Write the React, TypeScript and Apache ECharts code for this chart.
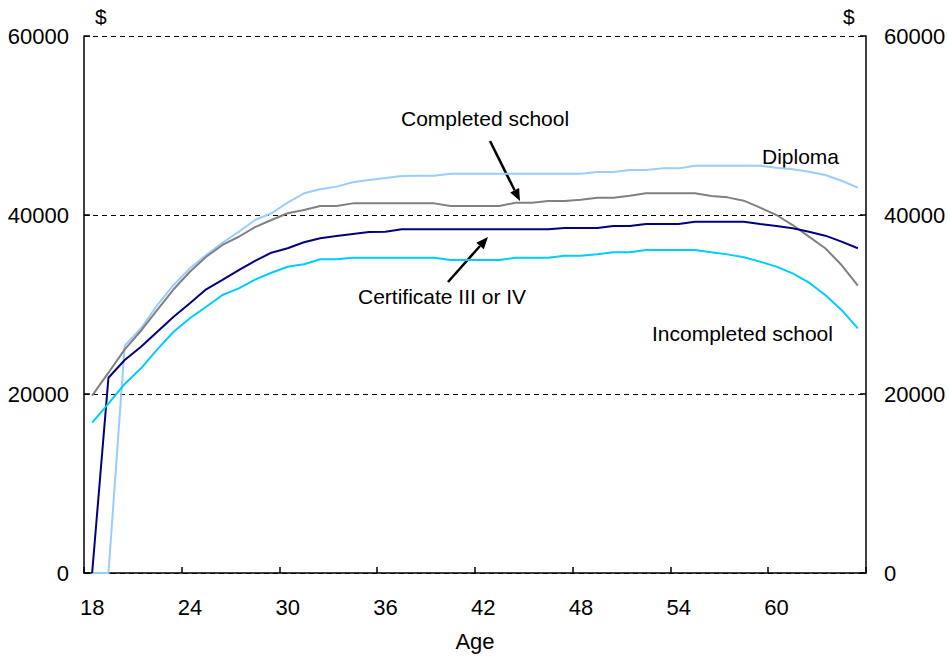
import React, { useEffect, useRef } from "react";
import * as echarts from "echarts";

const ages: string[] = [];
for (let a = 18; a <= 65; a++) ages.push(String(a));

const diploma = [
  0, 0, 25400, 27340, 29940, 32180, 34040, 35530, 36900, 38130,
  39440, 40190, 41380, 42420, 42870, 43170, 43650, 43910, 44130, 44360,
  44390, 44390, 44600, 44600, 44600, 44600, 44600, 44600, 44600, 44600,
  44600, 44800, 44800, 45030, 45030, 45210, 45210, 45510, 45510, 45510,
  45510, 45510, 45290, 45100, 44840, 44470, 43830, 43050,
];
const completedSchool = [
  19810, 22380, 24990, 27070, 29390, 31700, 33660, 35340, 36650, 37570,
  38650, 39440, 40190, 40560, 41000, 41000, 41300, 41300, 41300, 41300,
  41300, 41300, 41000, 41000, 41000, 41000, 41380, 41380, 41560, 41560,
  41700, 41930, 41930, 42160, 42420, 42420, 42420, 42420, 42120, 41970,
  41600, 40820, 40000, 38880, 37580, 36280, 34410, 32100,
];
const certificate = [
  0, 21820, 23800, 25290, 26960, 28640, 30130, 31700, 32740, 33850,
  34880, 35790, 36280, 36950, 37400, 37650, 37880, 38100, 38130, 38400,
  38400, 38400, 38400, 38400, 38400, 38400, 38400, 38400, 38400, 38550,
  38550, 38550, 38770, 38770, 38990, 38990, 38990, 39250, 39250, 39250,
  39250, 38990, 38770, 38510, 38130, 37690, 37020, 36280,
];
const incompleted = [
  16800, 18920, 21120, 22870, 24990, 26960, 28460, 29750, 31060, 31810,
  32780, 33550, 34220, 34490, 35050, 35050, 35230, 35230, 35230, 35230,
  35230, 35230, 34970, 34970, 34970, 34970, 35230, 35230, 35230, 35460,
  35440, 35620, 35830, 35830, 36090, 36090, 36090, 36090, 35830, 35600,
  35270, 34790, 34230, 33480, 32440, 31060, 29390, 27340,
];

const FONT = "Liberation Sans, Arial, sans-serif";

export default function App() {
  const ref = useRef<HTMLDivElement>(null);
  useEffect(() => {
    if (!ref.current) return;
    const chart = echarts.init(ref.current, null, { renderer: "svg" });
    const labelStyle = { color: "#000", fontSize: 22, fontFamily: FONT };
    const yBase = {
      type: "value" as const,
      min: 0,
      max: 60000,
      interval: 20000,
      axisLine: { show: true, lineStyle: { color: "#000", width: 1.5 } },
      axisTick: { show: true, inside: true, length: 6, lineStyle: { color: "#000", width: 1.5 } },
    };
    const fmt = (v: number) => String(v);
    chart.setOption({
      animation: false,
      backgroundColor: "#fff",
      grid: { left: 84, right: 82, top: 36, bottom: 86, containLabel: false, outerBoundsMode: "none" },
      xAxis: {
        type: "category",
        data: ages,
        boundaryGap: true,
        name: "Age",
        nameLocation: "middle",
        nameGap: 57,
        nameTextStyle: { ...labelStyle },
        axisLine: { lineStyle: { color: "#000", width: 1.5 } },
        axisTick: { show: true, inside: true, length: 6, interval: 5, lineStyle: { color: "#000", width: 1.5 } },
        axisLabel: { ...labelStyle, interval: 5, margin: 23 },
        splitLine: { show: false },
      },
      yAxis: [
        {
          ...yBase,
          position: "left",
          axisLabel: { ...labelStyle, margin: 15, formatter: fmt },
          splitLine: { show: true, lineStyle: { color: "#000", type: [5, 4], width: 1 } },
        },
        {
          ...yBase,
          position: "right",
          axisLabel: { ...labelStyle, margin: 18, formatter: fmt },
          splitLine: { show: false },
        },
      ],
      series: [
        { name: "Diploma", type: "line", data: diploma, symbol: "none", lineStyle: { color: "#99CCFF", width: 2 }, itemStyle: { color: "#99CCFF" } },
        { name: "Completed school", type: "line", data: completedSchool, symbol: "none", lineStyle: { color: "#808080", width: 2 }, itemStyle: { color: "#808080" } },
        { name: "Certificate III or IV", type: "line", data: certificate, symbol: "none", lineStyle: { color: "#000080", width: 2 }, itemStyle: { color: "#000080" } },
        { name: "Incompleted school", type: "line", data: incompleted, symbol: "none", lineStyle: { color: "#00CCFF", width: 2 }, itemStyle: { color: "#00CCFF" } },
      ],
      graphic: [
        { type: "text", left: 95, top: 6, style: { text: "$", fill: "#000", font: `21px ${FONT}` } },
        { type: "text", left: 843, top: 6, style: { text: "$", fill: "#000", font: `21px ${FONT}` } },
        { type: "text", left: 401, top: 108, style: { text: "Completed school", fill: "#000", font: `21px ${FONT}` } },
        { type: "text", left: 358, top: 286, style: { text: "Certificate III or IV", fill: "#000", font: `21px ${FONT}` } },
        { type: "text", left: 762, top: 146, style: { text: "Diploma", fill: "#000", font: `21px ${FONT}` } },
        { type: "text", left: 652, top: 323, style: { text: "Incompleted school", fill: "#000", font: `21px ${FONT}` } },
        { type: "line", shape: { x1: 490, y1: 141, x2: 514.6, y2: 190.3 }, style: { stroke: "#000", lineWidth: 2.5 } },
        { type: "polygon", shape: { points: [[520, 201], [510.2, 192.5], [519.1, 188.0]] }, style: { fill: "#000" } },
        { type: "line", shape: { x1: 448, y1: 282, x2: 480, y2: 246 }, style: { stroke: "#000", lineWidth: 2.5 } },
        { type: "polygon", shape: { points: [[488, 237], [483.8, 249.3], [476.3, 242.7]] }, style: { fill: "#000" } },
      ],
    });
    return () => chart.dispose();
  }, []);
  return (
    <div
      ref={ref}
      style={{ position: "fixed", left: 0, top: 0, width: 948, height: 659 }}
    />
  );
}
